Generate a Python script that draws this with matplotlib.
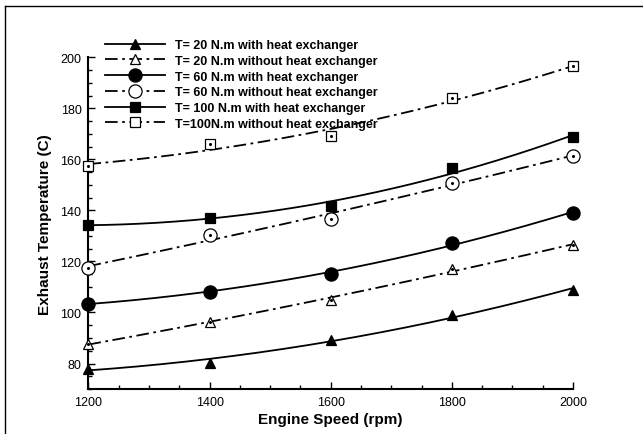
import numpy as np
import matplotlib
matplotlib.use("Agg")
import matplotlib.pyplot as plt
from matplotlib.lines import Line2D
from matplotlib.ticker import MultipleLocator

plt.rcParams["font.family"] = ["Liberation Sans", "DejaVu Sans"]

rpm = [1200, 1400, 1600, 1800, 2000]

t20_hx = [78.0, 80.3, 89.1, 98.9, 109.0]
t20_nohx = [87.6, 96.3, 105.0, 117.2, 126.3]
t60_hx = [103.5, 108.1, 115.2, 127.4, 139.0]
t60_nohx = [117.5, 130.2, 136.8, 150.7, 161.5]
t100_hx = [134.4, 137.0, 141.7, 156.7, 168.7]
t100_nohx = [157.4, 166.1, 169.1, 184.2, 196.4]

labels = [
    "T= 20 N.m with heat exchanger",
    "T= 20 N.m without heat exchanger",
    "T= 60 N.m with heat exchanger",
    "T= 60 N.m without heat exchanger",
    "T= 100 N.m with heat exchanger",
    "T=100N.m without heat exchanger",
]

DASHDOT = (0, (7, 2.5, 1.5, 2.5))
# (values, marker, size, filled, linestyle)
series = [
    (t20_hx, "^", 7.5, True, "-"),
    (t20_nohx, "^", 7.5, False, DASHDOT),
    (t60_hx, "o", 9.5, True, "-"),
    (t60_nohx, "o", 9.5, False, DASHDOT),
    (t100_hx, "s", 7, True, "-"),
    (t100_nohx, "s", 7, False, DASHDOT),
]

fig = plt.figure(figsize=(6.43, 4.35), dpi=100)
ax = fig.add_axes([0.1376, 0.1034, 0.7535, 0.7626])

xs = np.array(rpm, dtype=float)
xfit = np.linspace(1200, 2000, 200)
handles = []
for (vals, mk, ms, filled, ls), lab in zip(series, labels):
    # quadratic trend line through each data set
    coef = np.polyfit(xs, vals, 2)
    ax.plot(xfit, np.polyval(coef, xfit), color="black", lw=1.3, ls=ls,
            zorder=2, clip_on=False)
    face = "black" if filled else "white"
    ax.plot(xs, vals, ls="none", marker=mk, ms=ms, mfc=face, mec="black",
            mew=0.9, zorder=3, clip_on=False)
    if not filled:
        ax.plot(xs, vals, ls="none", marker="o", ms=1.2, color="black",
                zorder=4, clip_on=False)
    h = Line2D([], [], color="black", lw=1.3, ls=ls, marker=mk, ms=ms,
               mfc=face, mec="black", mew=0.9)
    handles.append(h)

ax.set_xlim(1200, 2000)
ax.set_ylim(70, 200)
ax.xaxis.set_major_locator(MultipleLocator(200))
ax.xaxis.set_minor_locator(MultipleLocator(50))
ax.yaxis.set_minor_locator(MultipleLocator(5))
ax.set_yticks([80, 100, 120, 140, 160, 180, 200])

for side in ("top", "right"):
    ax.spines[side].set_visible(False)
for side in ("left", "bottom"):
    ax.spines[side].set_linewidth(1.5)

ax.tick_params(which="both", direction="in", width=1.0, labelsize=9, pad=5)
ax.tick_params(which="major", length=5)
ax.tick_params(which="minor", length=3)

ax.set_xlabel("Engine Speed (rpm)", fontsize=11, fontweight="bold", labelpad=3)
ax.set_ylabel("Exhaust Temperature (C)", fontsize=11, fontweight="bold", labelpad=6)

leg = fig.legend(handles, labels, loc="upper left",
                 bbox_to_anchor=(105 / 643, 1 - 40 / 435),
                 frameon=False, prop={"weight": "bold", "size": 9},
                 handlelength=4.8, handletextpad=0.8, labelspacing=0.3,
                 borderpad=0, borderaxespad=0)

# partial frame along the top and left edges
fig.add_artist(Line2D([5 / 643, 5 / 643], [0, 1 - 7 / 435], color="black",
                      lw=1.0, transform=fig.transFigure))
fig.add_artist(Line2D([5 / 643, 1], [1 - 7 / 435, 1 - 7 / 435], color="black",
                      lw=1.0, transform=fig.transFigure))

fig.savefig("out.png", dpi=100)
